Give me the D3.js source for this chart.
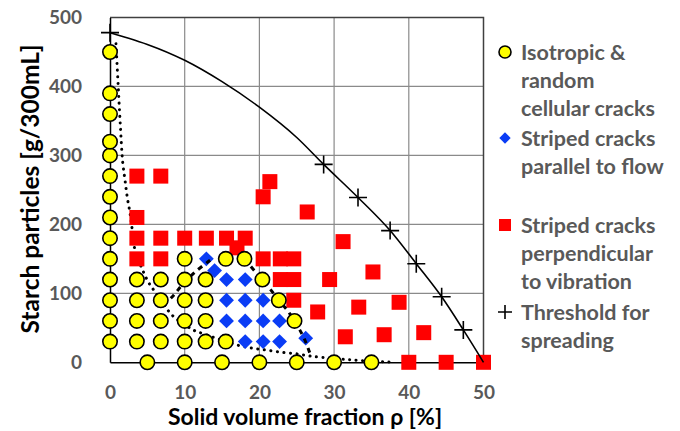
<!DOCTYPE html>
<html>
<head>
<meta charset="utf-8">
<script src="https://cdn.jsdelivr.net/npm/d3@7"></script>
<style>
  html, body { margin: 0; padding: 0; background: #fff; }
  svg { display: block; }
  text { font-family: Lato, "Open Sans", "Liberation Sans", sans-serif; font-weight: bold; }
</style>
</head>
<body>
<svg id="chart" width="680" height="431"></svg>
<script>
// Crack patterns of starch suspensions: starch loading vs. solid volume fraction
const xTicks = [0, 10, 20, 30, 40, 50];
const yTicks = [0, 100, 200, 300, 400, 500];

// [solid volume fraction %, starch g/300mL]
const isotropic = [
  [0, 30], [0, 60], [0, 90], [0, 120], [0, 150], [0, 180], [0, 210], [0, 240],
  [0, 270], [0, 300], [0, 320], [0, 360], [0, 390], [0, 450],
  [3.6, 30], [3.6, 60], [3.6, 90], [3.6, 120],
  [6.8, 30], [6.8, 60], [6.8, 90], [6.8, 120],
  [10, 30], [10, 60], [10, 90], [10, 120], [10, 150],
  [12.8, 30], [12.8, 60], [12.8, 90], [12.8, 120],
  [15.5, 30], [15.5, 150], [18, 150],
  [20.4, 120], [22.6, 90], [24.7, 60],
  [5, 0], [10, 0], [15, 0], [20, 0], [25, 0], [30, 0], [35, 0]
];

const parallel = [
  [12.9, 150], [14, 133], [15.6, 120], [18.1, 120],
  [15.6, 90], [18.1, 90], [20.5, 90],
  [15.6, 60], [18.1, 60], [20.5, 60], [22.7, 60],
  [18.1, 30], [20.5, 30], [22.7, 30], [26.2, 35]
];

const perpendicular = [
  [3.6, 270], [6.8, 270], [3.6, 210],
  [3.6, 180], [6.8, 180], [10, 180], [12.9, 180], [15.6, 180], [18.1, 180], [17, 166],
  [3.6, 150], [6.8, 150], [20.5, 150], [22.8, 150], [24.6, 150],
  [22.8, 120], [24.6, 120], [29.4, 120], [24.6, 90],
  [21.4, 262], [20.5, 240], [26.4, 218], [31.2, 175], [35.2, 131],
  [27.8, 73], [33.3, 80], [38.7, 87], [31.5, 37], [36.7, 40], [42, 43],
  [40, 0], [45, 0], [50, 0]
];

const threshold = [
  [0, 478], [28.6, 287], [33.2, 239], [37.5, 191], [41, 143], [44.4, 95], [47.3, 47]
];

// spreading boundary traced through the threshold points
const thresholdCurve = [
  [0, 478], [2.5, 470], [5, 461], [10, 438], [15, 407], [20, 370], [25, 326],
  [28.6, 287], [33.2, 239], [37.5, 191], [41, 143], [44.4, 95], [47.3, 47], [50, 0]
];

// dotted boundary of the isotropic region
const isotropicBoundary = [
  [0.8, 462], [1.1, 400], [1.4, 340], [1.7, 290], [2, 265], [2.3, 240], [2.7, 215],
  [3, 190], [3.4, 160], [4.2, 138], [5.1, 117], [5.9, 104], [7, 88], [8, 72],
  [9, 62], [11.3, 46], [12.6, 41], [14.7, 33], [17.4, 24], [19.4, 20], [21.4, 17],
  [23.4, 14], [25.2, 12], [26.8, 9], [29, 6.5], [31.7, 4], [33, 3], [35, 1.5],
  [37, 0.5], [38.2, 0]
];

// dashed boundaries of the parallel-crack region
const parallelLeft = [[13.4, 148], [11.4, 131], [9.8, 114], [8.5, 97], [7.5, 86]];
const parallelRight = [
  [18, 150], [19.4, 132], [20.4, 120], [21.6, 104], [22.6, 90], [23.7, 76],
  [24.7, 60], [25.4, 47], [26.1, 32], [26.8, 12]
];

const legendItems = [
  { key: "isotropic", lines: ["Isotropic &", "random", "cellular cracks"], y: 52 },
  { key: "parallel", lines: ["Striped cracks", "parallel to flow"], y: 138 },
  { key: "perpendicular", lines: ["Striped cracks", "perpendicular", "to vibration"], y: 225 },
  { key: "threshold", lines: ["Threshold for", "spreading"], y: 312 }
];

const svg = d3.select("#chart");
const margin = { left: 110, right: 196.5, top: 17.5, bottom: 68.7 };
const W = 680, H = 431;

const x = d3.scaleLinear().domain([0, 50]).range([margin.left, W - margin.right]);
const y = d3.scaleLinear().domain([0, 500]).range([H - margin.bottom, margin.top]);

// gridlines
const grid = svg.append("g");
grid.selectAll("line.v").data(xTicks.slice(1, -1)).join("line")
  .attr("x1", d => x(d)).attr("x2", d => x(d))
  .attr("y1", y(0)).attr("y2", y(500))
  .attr("stroke", "#8a8a8a").attr("stroke-width", 1.2);
grid.selectAll("line.h").data(yTicks.slice(1, -1)).join("line")
  .attr("x1", x(0)).attr("x2", x(50))
  .attr("y1", d => y(d)).attr("y2", d => y(d))
  .attr("stroke", "#8a8a8a").attr("stroke-width", 1.2);

// plot frame
svg.append("path")
  .attr("d", `M${x(0)},${y(500)}H${x(50)}V${y(0)}`)
  .attr("fill", "none").attr("stroke", "#404040").attr("stroke-width", 1.5);

// axes
const xAxis = svg.append("g")
  .attr("transform", `translate(0,${y(0)})`)
  .call(d3.axisBottom(x).tickValues(xTicks).tickSize(0).tickPadding(23));
const yAxis = svg.append("g")
  .attr("transform", `translate(${x(0)},0)`)
  .call(d3.axisLeft(y).tickValues(yTicks).tickSize(0).tickPadding(28));
[xAxis, yAxis].forEach(a => {
  a.select(".domain").attr("stroke", "#000").attr("stroke-width", 1.5);
  a.selectAll("text")
    .attr("fill", "#595959")
    .style("font-size", "19px")
    .style("font-family", "Lato, 'Open Sans', sans-serif")
    .style("font-weight", "bold");
});

// axis titles
svg.append("text")
  .attr("x", 305).attr("y", 425)
  .attr("text-anchor", "middle")
  .attr("fill", "#000")
  .style("font-size", "23px")
  .text("Solid volume fraction ρ [%]");
svg.append("text")
  .attr("transform", `translate(39,189) rotate(-90)`)
  .attr("text-anchor", "middle")
  .attr("fill", "#000")
  .style("font-size", "24.5px")
  .text("Starch particles [g/300mL]");

// boundary lines
const line = d3.line().x(d => x(d[0])).y(d => y(d[1]));
svg.append("path")
  .datum(isotropicBoundary)
  .attr("d", line.curve(d3.curveCatmullRom.alpha(0.5)))
  .attr("fill", "none").attr("stroke", "#000").attr("stroke-width", 3)
  .attr("stroke-linecap", "round").attr("stroke-dasharray", "0.1,6.5");

// markers
const sq = 15;
svg.append("g").selectAll("rect").data(perpendicular).join("rect")
  .attr("x", d => x(d[0]) - sq / 2).attr("y", d => y(d[1]) - sq / 2)
  .attr("width", sq).attr("height", sq)
  .attr("fill", "#ff0000");

const diamond = d3.symbol().type(d3.symbolSquare).size(110);
svg.append("g").selectAll("path").data(parallel).join("path")
  .attr("d", diamond)
  .attr("transform", d => `translate(${x(d[0])},${y(d[1])}) rotate(45)`)
  .attr("fill", "#0a3cf5");

[parallelLeft, parallelRight].forEach(pts => {
  svg.append("path")
    .datum(pts)
    .attr("d", line.curve(d3.curveCatmullRom.alpha(0.5)))
    .attr("fill", "none").attr("stroke", "#000").attr("stroke-width", 3)
    .attr("stroke-dasharray", "5,5");
});

svg.append("g").selectAll("circle").data(isotropic).join("circle")
  .attr("cx", d => x(d[0])).attr("cy", d => y(d[1])).attr("r", 7.2)
  .attr("fill", "#ffff00").attr("stroke", "#000").attr("stroke-width", 1.6);

// spreading threshold
svg.append("path")
  .datum(thresholdCurve)
  .attr("d", line.curve(d3.curveMonotoneX))
  .attr("fill", "none").attr("stroke", "#000").attr("stroke-width", 1.6);

const plus = 9;
svg.append("g").selectAll("path").data(threshold).join("path")
  .attr("d", d => `M${x(d[0]) - plus},${y(d[1])}H${x(d[0]) + plus}M${x(d[0])},${y(d[1]) - plus}V${y(d[1]) + plus}`)
  .attr("stroke", "#000").attr("stroke-width", 1.6);

// legend
const lg = svg.append("g");
const mx = 505, tx = 521, lh = 28;
legendItems.forEach(item => {
  const cy = item.y;
  if (item.key === "isotropic") {
    lg.append("circle").attr("cx", mx).attr("cy", cy).attr("r", 6)
      .attr("fill", "#ffff00").attr("stroke", "#000").attr("stroke-width", 1.6);
  } else if (item.key === "parallel") {
    lg.append("path").attr("d", d3.symbol().type(d3.symbolSquare).size(64))
      .attr("transform", `translate(${mx},${cy}) rotate(45)`).attr("fill", "#0a3cf5");
  } else if (item.key === "perpendicular") {
    lg.append("rect").attr("x", mx - 6).attr("y", cy - 6).attr("width", 12).attr("height", 12)
      .attr("fill", "#ff0000");
  } else {
    lg.append("path").attr("d", `M${mx - 7},${cy}H${mx + 7}M${mx},${cy - 7}V${cy + 7}`)
      .attr("stroke", "#000").attr("stroke-width", 1.6);
  }
  item.lines.forEach((t, i) => {
    lg.append("text")
      .attr("x", tx).attr("y", cy + i * lh)
      .attr("dy", "0.35em")
      .attr("fill", "#595959")
      .style("font-size", "21.5px")
      .text(t);
  });
});
</script>
</body>
</html>
